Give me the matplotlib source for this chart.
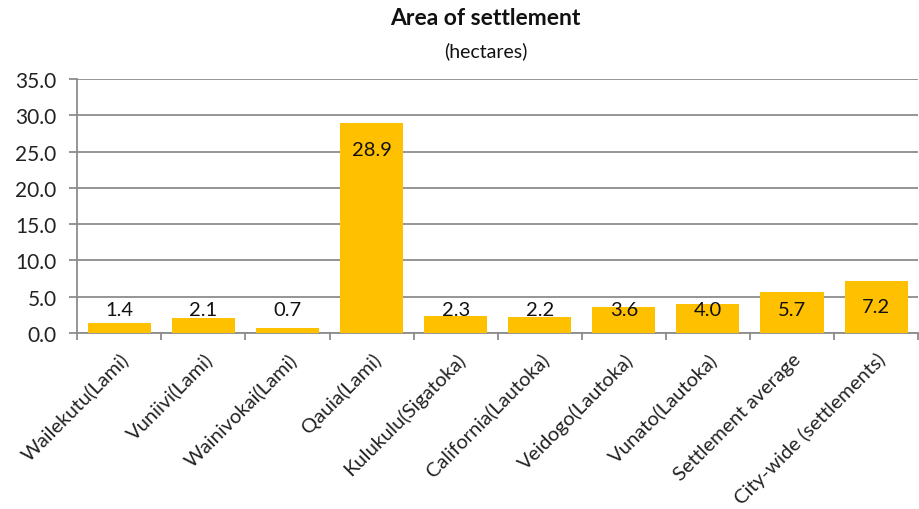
import numpy as np
import matplotlib
matplotlib.use('Agg')
import matplotlib.pyplot as plt

plt.rcParams['font.family'] = ['Lato', 'DejaVu Sans']

# settlement areas in hectares
settlements = ['Wailekutu(Lami)', 'Vuniivi(Lami)', 'Wainivokai(Lami)', 'Qauia(Lami)',
               'Kulukulu(Sigatoka)', 'California(Lautoka)', 'Veidogo(Lautoka)',
               'Vunato(Lautoka)', 'Settlement average', 'City-wide (settlements)']
areas = [1.4, 2.1, 0.7, 28.9, 2.3, 2.2, 3.6, 4.0, 5.7, 7.2]
yticks = [0, 5, 10, 15, 20, 25, 30, 35]

bar_color = '#FFC000'
grid_color = '#8C8C8C'

fig = plt.figure(figsize=(9.2, 5.1), dpi=100)
ax = fig.add_axes([0.084, 0.345, 0.914, 0.498])

x = np.arange(len(areas))
ax.bar(x, areas, width=0.75, color=bar_color, zorder=3)

# labels sit just inside the top of the bar, but never lower than a floor
for xi, v in zip(x, areas):
    ly = max(v - 3.6, 3.3)
    ax.text(xi, ly, f'{v:.1f}', ha='center', va='center', fontsize=14.5,
            color='#111111', zorder=4)

ax.set_xlim(-0.5, len(areas) - 0.5)
ax.set_ylim(0, 35)
ax.set_yticks(yticks)
ax.set_yticklabels([f'{t:.1f}' for t in yticks], fontsize=15, color='#222222')
ax.yaxis.grid(True, color=grid_color, linewidth=1.3, zorder=0)

ax.set_xticks(x)
ax.set_xticklabels(settlements, rotation=45, ha='right', rotation_mode='anchor',
                   fontsize=14.5, color='#222222')
ax.tick_params(axis='x', length=0, pad=12)
ax.set_xticks(np.arange(len(areas) + 1) - 0.5, minor=True)
ax.tick_params(axis='x', which='minor', length=5, color=grid_color, width=1.3)
ax.tick_params(axis='y', length=6, color=grid_color, width=1.3, pad=9)

for s in ['top', 'right']:
    ax.spines[s].set_visible(False)
for s in ['left', 'bottom']:
    ax.spines[s].set_color(grid_color)
    ax.spines[s].set_linewidth(1.3)

fig.text(0.528, 0.963, 'Area of settlement', ha='center', va='center',
         fontsize=16.5, fontweight='bold', color='#111111')
fig.text(0.528, 0.9, '(hectares)', ha='center', va='center',
         fontsize=14, color='#111111')

fig.savefig('out.png', dpi=100)
